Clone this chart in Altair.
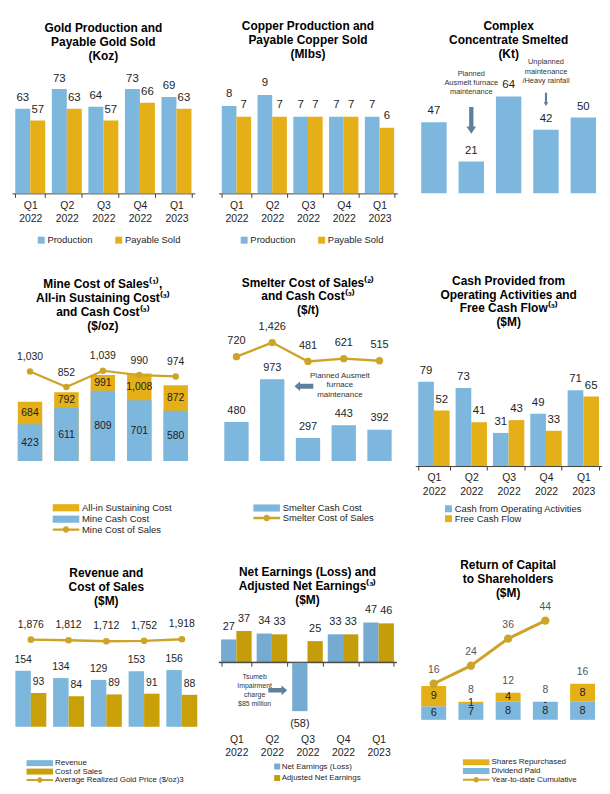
import altair as alt
import pandas as pd

# ---------------- data ----------------
quarters = ["Q1 2022", "Q2 2022", "Q3 2022", "Q4 2022", "Q1 2023"]

gold_production = [63, 73, 64, 73, 69]
gold_payable_sold = [57, 63, 57, 66, 63]
copper_production = [8, 9, 7, 7, 7]
copper_payable_sold = [7, 7, 7, 7, 6]
concentrate_smelted = [47, 21, 64, 42, 50]
mine_cash_cost = [423, 611, 809, 701, 580]
all_in_sustaining_cost = [684, 792, 991, 1008, 872]
mine_cost_of_sales = [1030, 852, 1039, 990, 974]
smelter_cash_cost = [480, 973, 297, 443, 392]
smelter_cost_of_sales = [720, 1426, 481, 621, 515]
cash_from_operations = [79, 73, 31, 49, 71]
free_cash_flow = [52, 41, 43, 33, 65]
revenue = [154, 134, 129, 153, 156]
cost_of_sales = [93, 84, 89, 91, 88]
avg_gold_price = [1876, 1812, 1712, 1752, 1918]
net_earnings = [27, 34, -58, 33, 47]
adjusted_net_earnings = [37, 33, 25, 33, 46]
dividend_paid = [6, 7, 8, 8, 8]
shares_repurchased = [9, 1, 4, 0, 8]
ytd_cumulative = [16, 24, 36, 44, None]

# ---------------- styles ----------------
FONT = "Liberation Sans"
BLUE = "#7EB7DD"
GOLD = "#E5AF17"
GOLD_D = "#C9A008"
LINE = "#CDA428"
NE_BLUE = "#75ABD3"
NE_GOLD = "#C59D0A"
ARROW = "#5F7F9B"
TXT = "#1E1E1E"
AXC = "#404040"

RECT_L = "M-3.34,-0.9H3.34V0.9H-3.34Z"
RECT_S = "M-3.34,-0.75H3.34V0.75H-3.34Z"
LDOT_L = "M-3.34,-0.31H3.34V0.31H-3.34Z M0.82,0A0.82,0.82,0,1,1,-0.82,0A0.82,0.82,0,1,1,0.82,0Z"
LDOT_S = "M-3.34,-0.25H3.34V0.25H-3.34Z M0.68,0A0.68,0.68,0,1,1,-0.68,0A0.68,0.68,0,1,1,0.68,0Z"
ARROW_DOWN = "M-0.16,-1H0.16V0.45H0.36L0,1L-0.36,0.45H-0.16Z"
ARROW_LEFT = "M1,-0.26H-0.4V-0.5L-1,0L-0.4,0.5V0.26H1Z"
ARROW_RIGHT = "M-1,-0.24H0.4V-0.52L1,0L0.4,0.52V0.24H-1Z"


def qaxis(lp, **kw):
    base = dict(labelAngle=0, labelExpr="split(datum.label, ' ')", labelFontSize=10.5,
                labelLineHeight=13.4, labelColor=TXT, labelFont=FONT, labelPadding=lp,
                domainColor=AXC, domainWidth=1, tickColor=AXC, tickSize=4, tickWidth=1,
                tickBand="extent", grid=False)
    base.update(kw)
    return alt.Axis(**base)


def xq(pi, po, axis=None, band=None):
    kw = {}
    if band is not None:
        kw["bandPosition"] = band
    return alt.X("quarter:N", sort=quarters, title=None,
                 scale=alt.Scale(paddingInner=pi, paddingOuter=po), axis=axis, **kw)


def yq(field, d0, d1, **kw):
    return alt.Y(f"{field}:Q", scale=alt.Scale(domain=[d0, d1], nice=False, zero=False),
                 axis=None, **kw)


def ttl(lines, off):
    return alt.TitleParams(text=lines, fontSize=12, fontWeight="bold", font=FONT, color="#000000",
                           lineHeight=14, offset=off, baseline="bottom", anchor="middle", frame="group")


def txt(chart, dy=0, size=11, color=TXT, **kw):
    return chart.mark_text(baseline="middle", align="center", dy=dy, fontSize=size, font=FONT,
                           color=color, **kw)


def leg_sq(x, y, horiz, fs=9.5, size=49, col=21, row=0.5, off=1.5):
    return alt.Legend(orient="none", legendX=x, legendY=y,
                      direction="horizontal" if horiz else "vertical", title=None,
                      symbolType="square", symbolSize=size, symbolStrokeWidth=0,
                      labelFontSize=fs, labelFont=FONT, labelColor=TXT, labelOffset=off,
                      columnPadding=col, rowPadding=row, padding=0)


def leg_path(x, y, path, fs, row):
    return alt.Legend(orient="none", legendX=x, legendY=y, direction="vertical", title=None,
                      symbolType=path, symbolSize=64, symbolStrokeWidth=0, labelFontSize=fs,
                      labelFont=FONT, labelColor=TXT, labelOffset=11.35, rowPadding=row, padding=0)


def xoff(series):
    return alt.XOffset("series:N", sort=series, scale=alt.Scale(paddingInner=0, paddingOuter=0))


# ---------------- panel 1: gold ----------------
s1 = ["Production", "Payable Sold"]
df1 = pd.DataFrame({"quarter": quarters, "Production": gold_production, "Payable Sold": gold_payable_sold})
b1 = alt.Chart(df1).transform_fold(s1, as_=["series", "value"])
x1 = xq(0.18, 0.09, qaxis(3))
y1 = yq("value", 20, 83.6)
p1 = alt.layer(
    b1.mark_bar(clip=True).encode(
        x=x1, xOffset=xoff(s1), y=y1,
        color=alt.Color("series:N", scale=alt.Scale(domain=s1, range=[BLUE, GOLD]),
                        legend=leg_sq(24.7, 168, True))),
    txt(b1, dy=-10.6, size=11.5).encode(x=x1, xOffset=xoff(s1), y=y1, text="value:Q"),
).properties(width=184, height=126,
             title=ttl(["Gold Production and", "Payable Gold Sold", "(Koz)"], -6.6))

# ---------------- panel 2: copper ----------------
df2 = pd.DataFrame({"quarter": quarters, "Production": copper_production, "Payable Sold": copper_payable_sold})
b2 = alt.Chart(df2).transform_fold(s1, as_=["series", "value"])
x2 = xq(0.18, 0.09, qaxis(3))
y2 = yq("value", 0, 11.45)
p2 = alt.layer(
    b2.mark_bar().encode(
        x=x2, xOffset=xoff(s1), y=y2,
        color=alt.Color("series:N", scale=alt.Scale(domain=s1, range=[BLUE, GOLD]),
                        legend=leg_sq(21, 168, True))),
    txt(b2, dy=-12, size=11.5).encode(x=x2, xOffset=xoff(s1), y=y2, text="value:Q"),
).properties(width=180, height=126,
             title=ttl(["Copper Production and", "Payable Copper Sold", "(Mlbs)"], -4.9))

# ---------------- panel 3: concentrate smelted ----------------
df3 = pd.DataFrame({"quarter": quarters, "smelted": concentrate_smelted})
x3 = xq(0.32, 0.16, qaxis(3))
x3n = xq(0.32, 0.16)
ann3 = pd.DataFrame({"quarter": ["Q2 2022", "Q4 2022"],
                     "note": ["Planned\nAusmelt furnace\nmaintenance",
                              "Unplanned\nmaintenance\n/Heavy rainfall"],
                     "ny": [81.4, 89.1]})
arr3a = pd.DataFrame({"quarter": ["Q2 2022"], "ay": [48.2]})
arr3b = pd.DataFrame({"quarter": ["Q4 2022"], "ay": [62.1]})
p3 = alt.layer(
    alt.Chart(df3).mark_bar(color=BLUE).encode(x=x3, y=yq("smelted", 0, 82.6)),
    txt(alt.Chart(df3), dy=-11, size=11.5).encode(x=x3n, y=yq("smelted", 0, 82.6), text="smelted:Q"),
    alt.Chart(ann3).mark_text(baseline="top", align="center", fontSize=7.5, font=FONT, color="#333333",
                              lineBreak="\n", lineHeight=9.3).encode(
        x=x3n, y=yq("ny", 0, 82.6), text="note:N"),
    alt.Chart(arr3a).mark_point(shape=ARROW_DOWN, size=729, filled=True, color=ARROW, opacity=1,
                                strokeWidth=0).encode(x=x3n, y=yq("ay", 0, 82.6)),
    alt.Chart(arr3b).mark_point(shape=ARROW_DOWN, size=177, filled=True, color=ARROW, opacity=1,
                                strokeWidth=0).encode(x=x3n, y=yq("ay", 0, 82.6)),
).properties(width=188, height=126,
             title=ttl(["Complex", "Concentrate Smelted", "(Kt)"], -14.9))

# ---------------- panel 4: mine costs ----------------
s4 = ["All-in Sustaining Cost", "Mine Cash Cost"]
df4 = pd.DataFrame({"quarter": quarters, "All-in Sustaining Cost": all_in_sustaining_cost,
                    "Mine Cash Cost": mine_cash_cost, "mcos": mine_cost_of_sales})
D4 = (0, 1406)
x4 = xq(0.33, 0.16, qaxis(0.5))
x4n = xq(0.33, 0.16)
b4 = alt.Chart(df4)
p4 = alt.layer(
    b4.transform_fold(s4, as_=["series", "value"]).mark_bar().encode(
        x=x4, y=yq("value", *D4, stack=None),
        color=alt.Color("series:N", scale=alt.Scale(domain=s4, range=[GOLD, BLUE]),
                        legend=leg_path(49.65, 165.25, RECT_L, 9.5, 0.5))),
    txt(b4.transform_calculate(mid="datum['Mine Cash Cost'] / 2"), size=10.5).encode(
        x=x4n, y=yq("mid", *D4), text=alt.Text(field="Mine Cash Cost", type="quantitative", format=",")),
    txt(b4.transform_calculate(mid="(datum['Mine Cash Cost'] + datum['All-in Sustaining Cost']) / 2"),
        size=10.5).encode(
        x=x4n, y=yq("mid", *D4),
        text=alt.Text(field="All-in Sustaining Cost", type="quantitative", format=",")),
    b4.mark_line(color=LINE, strokeWidth=2.2).encode(x=x4n, y=yq("mcos", *D4)),
    b4.transform_calculate(lname="'Mine Cost of Sales'").mark_circle(size=42, opacity=1).encode(
        x=x4n, y=yq("mcos", *D4),
        fill=alt.Fill("lname:N", scale=alt.Scale(domain=["Mine Cost of Sales"], range=[LINE]),
                      legend=leg_path(49.65, 187.25, LDOT_L, 9.5, 0.5))),
    txt(b4, dy=-14.5, size=10.5).encode(x=x4n, y=yq("mcos", *D4),
                                         text=alt.Text("mcos:Q", format=",")),
).properties(width=183, height=123,
             title=ttl(["Mine Cost of Sales⁽¹⁾,", "All-in Sustaining Cost⁽³⁾", "and Cash Cost⁽³⁾", "($/oz)"], -6.1))

# ---------------- panel 5: smelter costs ----------------
df5 = pd.DataFrame({"quarter": quarters, "Smelter Cash Cost": smelter_cash_cost,
                    "scos": smelter_cost_of_sales})
D5 = (30, 1439)
D5L = (-4509, 1610)
x5 = xq(0.32, 0.16, qaxis(6.2))
x5n = xq(0.32, 0.16)
b5 = alt.Chart(df5)
ann5 = pd.DataFrame({"quarter": ["Q4 2022"], "note": ["Planned Ausmelt\nfurnace\nmaintenance"], "ny": [1058.6]})
arr5 = pd.DataFrame({"quarter": ["Q3 2022"], "ay": [893]})
bars5 = alt.layer(
    b5.transform_fold(["Smelter Cash Cost"], as_=["series", "value"]).mark_bar(clip=True).encode(
        x=x5, y=yq("value", *D5),
        color=alt.Color("series:N", scale=alt.Scale(domain=["Smelter Cash Cost"], range=[BLUE]),
                        legend=leg_path(43.65, 165.5, RECT_L, 9.5, 0.5))),
    txt(b5, dy=-11.3, size=11).encode(x=x5n, y=yq("Smelter Cash Cost", *D5),
                                      text=alt.Text(field="Smelter Cash Cost", type="quantitative", format=",")),
    alt.Chart(ann5).mark_text(baseline="top", align="center", fontSize=8, font=FONT, color="#333333",
                              lineBreak="\n", lineHeight=9.5).encode(
        x=xq(0.32, 0.16, band=0.34), y=yq("ny", *D5), text="note:N"),
    alt.Chart(arr5).mark_point(shape=ARROW_LEFT, size=361, filled=True, color=ARROW, opacity=1,
                               strokeWidth=0).encode(x=xq(0.32, 0.16, band=0.33), y=yq("ay", *D5)),
)
line5 = alt.layer(
    b5.mark_line(color=LINE, strokeWidth=2.4).encode(x=x5n, y=yq("scos", *D5L)),
    b5.transform_calculate(lname="'Smelter Cost of Sales'").mark_circle(size=55, opacity=1).encode(
        x=x5n, y=yq("scos", *D5L),
        fill=alt.Fill("lname:N", scale=alt.Scale(domain=["Smelter Cost of Sales"], range=[LINE]),
                      legend=leg_path(43.65, 175.5, LDOT_L, 9.5, 0.5))),
    txt(b5, dy=-15.5, size=11).encode(x=x5n, y=yq("scos", *D5L), text=alt.Text("scos:Q", format=",")),
)
p5 = alt.layer(bars5, line5).resolve_scale(y="independent").properties(
    width=180, height=123,
    title=ttl(["Smelter Cost of Sales⁽²⁾", "and Cash Cost⁽³⁾", "($/t)"], -8.1))

# ---------------- panel 6: cash flow ----------------
s6 = ["Cash from Operating Activities", "Free Cash Flow"]
df6 = pd.DataFrame({"quarter": quarters, "Cash from Operating Activities": cash_from_operations,
                    "Free Cash Flow": free_cash_flow})
b6 = alt.Chart(df6).transform_fold(s6, as_=["series", "value"])
x6 = xq(0.16, 0.08, qaxis(3))
y6 = yq("value", 0, 119)
p6 = alt.layer(
    b6.mark_bar().encode(
        x=x6, xOffset=xoff(s6), y=y6,
        color=alt.Color("series:N", scale=alt.Scale(domain=s6, range=[BLUE, GOLD]),
                        legend=leg_sq(28.7, 166.25, False, row=-1.5))),
    txt(b6, dy=-11, size=11.5).encode(x=x6, xOffset=xoff(s6), y=y6, text="value:Q"),
).properties(width=188, height=128,
             title=ttl(["Cash Provided from", "Operating Activities and", "Free Cash Flow⁽³⁾", "($M)"], -2.4))

# ---------------- panel 7: revenue ----------------
s7 = ["Revenue", "Cost of Sales"]
df7 = pd.DataFrame({"quarter": quarters, "Revenue": revenue, "Cost of Sales": cost_of_sales,
                    "price": avg_gold_price})
D7 = (0, 316.9)
D7L = (-7165, 4794)
x7 = xq(0.18, 0.09, qaxis(2.2))
x7n = xq(0.18, 0.09)
b7 = alt.Chart(df7)
f7 = b7.transform_fold(s7, as_=["series", "value"])
bars7 = alt.layer(
    f7.mark_bar().encode(
        x=x7, xOffset=xoff(s7), y=yq("value", *D7),
        color=alt.Color("series:N", scale=alt.Scale(domain=s7, range=[BLUE, GOLD_D]),
                        legend=leg_path(24, 148.6, RECT_S, 8, 0.5))),
    txt(f7, dy=-11, size=10.5).encode(x=x7n, xOffset=xoff(s7), y=yq("value", *D7), text="value:Q"),
)
line7 = alt.layer(
    b7.mark_line(color=LINE, strokeWidth=2.4).encode(x=x7n, y=yq("price", *D7L)),
    b7.transform_calculate(lname="'Average Realized Gold Price ($/oz)3'").mark_circle(size=45, opacity=1).encode(
        x=x7n, y=yq("price", *D7L),
        fill=alt.Fill("lname:N", scale=alt.Scale(domain=["Average Realized Gold Price ($/oz)3"], range=[LINE]),
                      legend=leg_path(24, 165.6, LDOT_S, 8, 0.5))),
    txt(b7, dy=-15, size=10.5).encode(x=x7n, y=yq("price", *D7L), text=alt.Text("price:Q", format=",")),
)
p7 = alt.layer(bars7, line7).resolve_scale(y="independent").properties(
    width=190, height=116, title=ttl(["Revenue and", "Cost of Sales", "($M)"], -8.6))

# ---------------- panel 8: net earnings ----------------
s8 = ["Net Earnings (Loss)", "Adjusted Net Earnings"]
df8 = pd.DataFrame({"quarter": quarters, "Net Earnings (Loss)": net_earnings,
                    "Adjusted Net Earnings": adjusted_net_earnings})
D8 = (-76.5, 60)
f8 = alt.Chart(df8).transform_fold(s8, as_=["series", "value"])
xa8 = xq(0.14, 0.07, qaxis(7.8, domain=False, ticks=False, tickSize=0, orient="bottom"))
xb8 = xq(0.14, 0.07, qaxis(0, labels=False, offset=-65, orient="bottom"))
x8n = xq(0.14, 0.07)
ann8 = pd.DataFrame({"quarter": ["Q2 2022"], "note": ["Tsumeb\nImpairment\ncharge\n$85 million"], "ny": [-12.9]})
arr8 = pd.DataFrame({"quarter": ["Q2 2022"], "ay": [-33.3]})
zero8 = pd.DataFrame({"zero": [0]})
p8 = alt.layer(
    f8.mark_bar().encode(
        x=xa8, xOffset=xoff(s8), y=yq("value", *D8),
        color=alt.Color("series:N", scale=alt.Scale(domain=s8, range=[NE_BLUE, NE_GOLD]),
                        legend=leg_sq(55, 152, False, fs=8, size=36, row=3.6, off=0.5))),
    alt.Chart(zero8).mark_rule(color=AXC, strokeWidth=1).encode(y=yq("zero", *D8)),
    txt(f8.transform_filter("datum.value >= 0"), dy=-12.5, size=11).encode(
        x=xb8, xOffset=xoff(s8), y=yq("value", *D8), text="value:Q"),
    txt(f8.transform_filter("datum.value < 0").transform_calculate(lbl="'(' + (-datum.value) + ')'"),
        dy=13, size=11).encode(x=x8n, xOffset=xoff(s8), y=yq("value", *D8), text="lbl:N"),
    alt.Chart(ann8).mark_text(baseline="top", align="center", dx=-2, fontSize=7, font=FONT, color="#333333",
                              lineBreak="\n", lineHeight=9).encode(
        x=xq(0.14, 0.07, band=0), y=yq("ny", *D8), text="note:N"),
    alt.Chart(arr8).mark_point(shape=ARROW_RIGHT, size=361, filled=True, color=ARROW, opacity=1,
                               strokeWidth=0).encode(x=xq(0.14, 0.07, band=0.69), y=yq("ay", *D8)),
).resolve_axis(x="independent").properties(
    width=179, height=116,
    title=ttl(["Net Earnings (Loss) and", "Adjusted Net Earnings⁽³⁾", "($M)"], -14.6))

# ---------------- panel 9: return of capital ----------------
s9 = ["Shares Repurchased", "Dividend Paid"]
df9 = pd.DataFrame({"quarter": quarters, "Dividend Paid": dividend_paid,
                    "Shares Repurchased": shares_repurchased, "ytd": ytd_cumulative})
D9 = (0, 48.0)
x9 = xq(0.33, 0.16, qaxis(3.5))
x9n = xq(0.33, 0.16)
b9 = alt.Chart(df9)
p9 = alt.layer(
    b9.transform_fold(["Dividend Paid", "Shares Repurchased"], as_=["series", "value"])
      .transform_calculate(ord="datum.series == 'Dividend Paid' ? 0 : 1")
      .mark_bar().encode(
        x=x9, y=alt.Y("value:Q", stack="zero", scale=alt.Scale(domain=list(D9), nice=False, zero=False), axis=None),
        color=alt.Color("series:N", scale=alt.Scale(domain=s9, range=[GOLD, BLUE]),
                        legend=leg_path(57.35, 147.7, RECT_S, 8, 0.8)),
        order=alt.Order("ord:Q")),
    txt(b9.transform_calculate(mid="datum['Dividend Paid'] / 2"), size=11).encode(
        x=x9n, y=yq("mid", *D9), text=alt.Text(field="Dividend Paid", type="quantitative")),
    txt(b9.transform_calculate(mid="datum['Dividend Paid'] + datum['Shares Repurchased'] / 2",
                               lbl="datum['Shares Repurchased'] == 0 ? '-' : '' + datum['Shares Repurchased']"),
        size=11).encode(x=x9n, y=yq("mid", *D9), text="lbl:N"),
    txt(b9.transform_filter("datum.quarter != 'Q1 2022'")
          .transform_calculate(tot="datum['Dividend Paid'] + datum['Shares Repurchased']"),
        dy=-11.7, size=10.5, color="#555555").encode(x=x9n, y=yq("tot", *D9), text="tot:Q"),
    b9.transform_filter("isValid(datum.ytd)").mark_line(color=LINE, strokeWidth=3).encode(
        x=x9n, y=yq("ytd", *D9)),
    b9.transform_filter("isValid(datum.ytd)")
      .transform_calculate(lname="'Year-to-date Cumulative'").mark_circle(size=70, opacity=1).encode(
        x=x9n, y=yq("ytd", *D9),
        fill=alt.Fill("lname:N", scale=alt.Scale(domain=["Year-to-date Cumulative"], range=[LINE]),
                      legend=leg_path(57.35, 165.3, LDOT_S, 8, 0.8))),
    txt(b9.transform_filter("isValid(datum.ytd)"), dy=-14, size=10.5, color="#555555").encode(
        x=x9n, y=yq("ytd", *D9), text="ytd:Q"),
).properties(width=187, height=109,
             title=ttl(["Return of Capital", "to Shareholders", "($M)"], -9.9))

# ---------------- layout ----------------
chart = alt.concat(
    p1, p2, p3, p4, p5, p6, p7, p8, p9,
    columns=3, spacing=alt.RowColnumber(row=146.5, column=18), bounds="flush",
).resolve_scale(
    color="independent", fill="independent", xOffset="independent"
).resolve_legend(
    color="independent", fill="independent"
).properties(
    padding={"left": 4, "top": 9, "right": 0, "bottom": 0}
).configure(font=FONT).configure_view(stroke=None)

chart.save("out.html", embed_options={"renderer": "svg", "actions": False})
